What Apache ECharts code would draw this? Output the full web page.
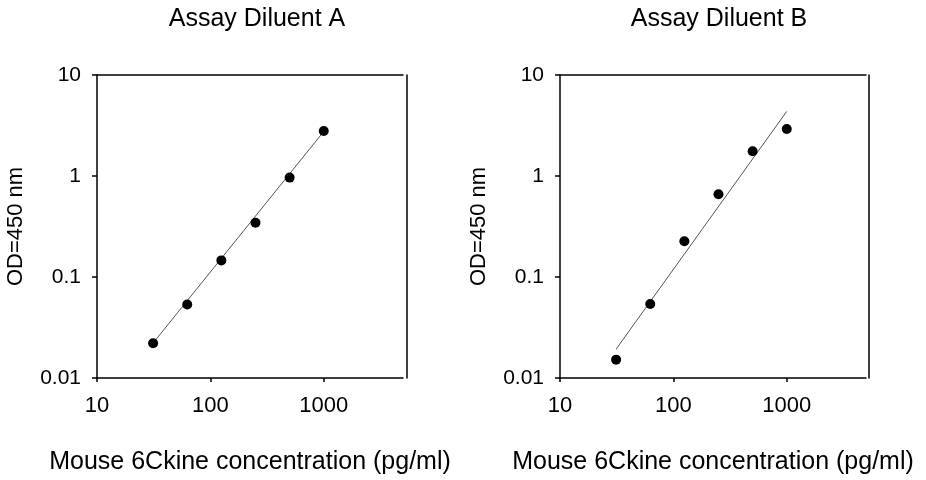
<!DOCTYPE html>
<html>
<head>
<meta charset="utf-8">
<script src="https://cdn.jsdelivr.net/npm/echarts@6/dist/echarts.min.js"></script>
<style>html,body{margin:0;padding:0;background:#fff;}#c{width:926px;height:480px;}</style>
</head>
<body>
<div id="c"></div>
<script>
// Data
var concentrations = [31.25, 62.5, 125, 250, 500, 1000];
var odDiluentA = [0.0221, 0.0535, 0.146, 0.345, 0.964, 2.79];
var odDiluentB = [0.0152, 0.054, 0.226, 0.66, 1.76, 2.92];
var fitX = [31.25, 1000];
var fitA = [0.0222, 2.76];
var fitB = [0.0193, 4.36];
var xTicks = [10, 100, 1000];
var titles = ['Assay Diluent A', 'Assay Diluent B'];
var xName = 'Mouse 6Ckine concentration (pg/ml)';
var yName = 'OD=450 nm';

function pairs(xs, ys) { return xs.map(function (x, i) { return [x, ys[i]]; }); }

var FONT = 'Liberation Sans, Arial, sans-serif';
var grids = [
  { left: 97, top: 75, width: 306, height: 305 },
  { left: 560, top: 75, width: 306, height: 305 }
];
var rightOffsets = [4, 3];
var titleCenters = [252, 714];

var option = {
  animation: false,
  backgroundColor: '#fff',
  title: titles.map(function (t, i) {
    return {
      text: t,
      left: titleCenters[i],
      textAlign: 'center',
      top: 2,
      textStyle: { fontFamily: FONT, fontSize: 25, fontWeight: 'normal', color: '#000' }
    };
  }),
  grid: grids,
  xAxis: [],
  yAxis: [],
  series: []
};

function fmt(v) { return String(+Number(v).toPrecision(4)); }

[0, 1].forEach(function (i) {
  option.xAxis.push({
    type: 'log', logBase: 10, gridIndex: i, min: 10, max: 5000,
    position: 'bottom',
    name: xName, nameLocation: 'middle', nameGap: 72,
    nameTextStyle: { fontFamily: FONT, fontSize: 25, color: '#000' },
    axisLine: { show: true, lineStyle: { color: '#000', width: 1.5 } },
    axisTick: { show: true, length: 4, lineStyle: { color: '#000', width: 1.5 }, customValues: xTicks },
    axisLabel: { fontFamily: FONT, fontSize: 22, color: '#000', margin: 17, customValues: xTicks, formatter: fmt },
    splitLine: { show: false }, minorTick: { show: false }
  });
  option.xAxis.push({
    type: 'log', gridIndex: i, min: 10, max: 5000, position: 'top',
    axisLine: { show: true, onZero: false, lineStyle: { color: '#000', width: 1.5 } },
    axisTick: { show: false }, axisLabel: { show: false }, splitLine: { show: false }
  });
  option.yAxis.push({
    type: 'log', logBase: 10, gridIndex: i, min: 0.01, max: 10,
    position: 'left',
    name: yName, nameLocation: 'middle', nameGap: 70, nameRotate: 90,
    nameTextStyle: { fontFamily: FONT, fontSize: 22, color: '#000' },
    axisLine: { show: true, onZero: false, lineStyle: { color: '#000', width: 1.5 } },
    axisTick: { show: true, length: 5, lineStyle: { color: '#000', width: 1.5 } },
    axisLabel: { fontFamily: FONT, fontSize: 21, color: '#000', margin: 16, formatter: fmt },
    splitLine: { show: false }, minorTick: { show: false }
  });
  option.yAxis.push({
    type: 'log', gridIndex: i, min: 0.01, max: 10, position: 'right', offset: rightOffsets[i],
    axisLine: { show: true, onZero: false, lineStyle: { color: '#000', width: 1.5 } },
    axisTick: { show: false }, axisLabel: { show: false }, splitLine: { show: false }
  });
});

var odSets = [odDiluentA, odDiluentB];
var fitSets = [fitA, fitB];
[0, 1].forEach(function (i) {
  option.series.push({
    type: 'line', xAxisIndex: i * 2, yAxisIndex: i * 2,
    data: pairs(fitX, fitSets[i]), showSymbol: false, symbol: 'none',
    lineStyle: { color: '#555', width: 1 }, silent: true, z: 2
  });
  option.series.push({
    type: 'scatter', xAxisIndex: i * 2, yAxisIndex: i * 2,
    data: pairs(concentrations, odSets[i]), symbol: 'circle', symbolSize: 10,
    itemStyle: { color: '#000', opacity: 1 }, z: 3
  });
});

var chart = echarts.init(document.getElementById('c'), null, { renderer: 'canvas' });
chart.setOption(option);
</script>
</body>
</html>
